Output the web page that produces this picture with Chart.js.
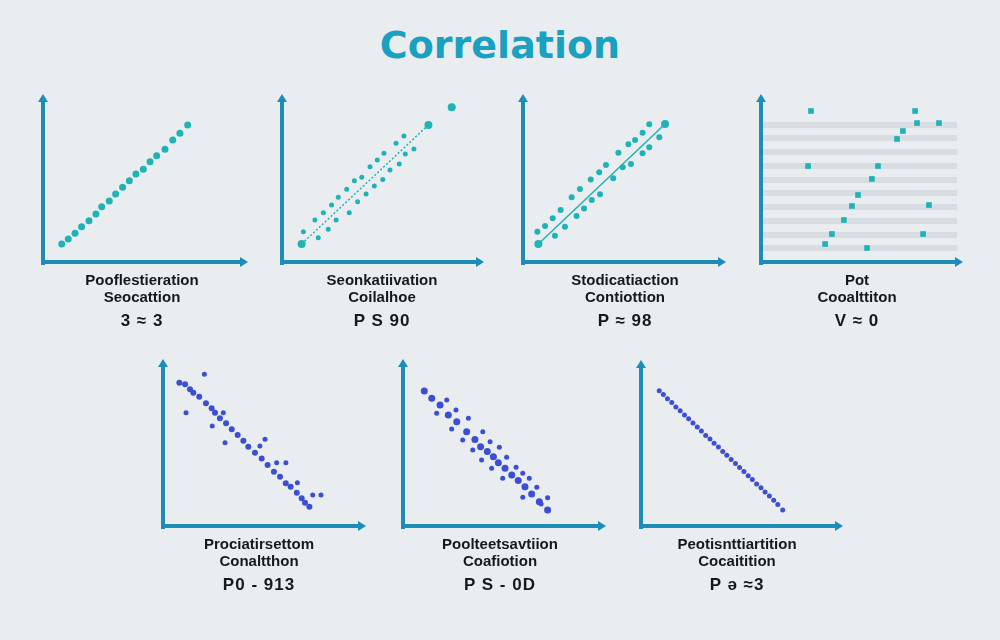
<!DOCTYPE html>
<html>
<head>
<meta charset="utf-8">
<script src="https://cdn.jsdelivr.net/npm/chart.js@4.4.1/dist/chart.umd.min.js"></script>
<style>
  body { margin: 0; background: #e9edf0; width: 1000px; height: 640px; position: relative; overflow: hidden; font-family: "Liberation Sans", Arial, sans-serif; }
  #title { position: absolute; left: 0; width: 1000px; top: 23px; text-align: center; font: bold 38px/44px "DejaVu Sans", sans-serif; color: #1aa0c0; }
  .panel { position: absolute; }
  .lbl { position: absolute; width: 240px; text-align: center; color: #16191c; font-weight: bold; }
  .l1, .l2 { font-size: 15px; line-height: 17px; }
  .l3 { font-size: 17px; line-height: 20px; margin-top: 6px; letter-spacing: 1px; }
</style>
</head>
<body>
<div id="title">Correlation</div>

<script>
// --- data (axes run 0..10) ---
// panel 1 : perfect positive
const p1X = [0.94, 1.27, 1.61, 1.94, 2.31, 2.66, 2.95, 3.33, 3.65, 4.00, 4.34, 4.67, 5.04, 5.38, 5.71, 6.13, 6.52, 6.88, 7.27];
const p1Y = [1.11, 1.42, 1.77, 2.18, 2.55, 2.96, 3.41, 3.77, 4.20, 4.61, 5.02, 5.43, 5.72, 6.19, 6.56, 6.96, 7.53, 7.94, 8.46];

// panel 2 : strong positive
const p2LineX = [1.00, 7.47];
const p2LineY = [1.11, 8.46];
const p2UpX = [1.09, 1.68, 2.11, 2.53, 2.87, 3.30, 3.69, 4.07, 4.49, 4.86, 5.20, 5.82, 6.22];
const p2UpY = [1.87, 2.59, 3.04, 3.52, 3.99, 4.49, 5.02, 5.23, 5.88, 6.30, 6.71, 7.33, 7.78];
const p2LoX = [1.85, 2.36, 2.76, 3.43, 3.86, 4.29, 4.71, 5.14, 5.51, 5.98, 6.29, 6.73];
const p2LoY = [1.50, 2.02, 2.59, 3.04, 3.72, 4.20, 4.69, 5.10, 5.68, 6.05, 6.67, 6.98];
const p2OutX = [8.66];
const p2OutY = [9.55];

// panel 3 : moderate positive
const p3LineX = [0.78, 7.21];
const p3LineY = [1.11, 8.52];
const p3UpX = [0.73, 1.12, 1.51, 1.91, 2.47, 2.89, 3.44, 3.87, 4.21, 4.84, 5.35, 5.69, 6.07, 6.41];
const p3UpY = [1.87, 2.22, 2.70, 3.21, 3.99, 4.51, 5.10, 5.54, 5.99, 6.75, 7.27, 7.53, 7.98, 8.50];
const p3LoX = [1.62, 2.13, 2.72, 3.10, 3.49, 3.91, 4.58, 5.06, 5.48, 6.07, 6.41, 6.92];
const p3LoY = [1.62, 2.18, 2.84, 3.31, 3.83, 4.18, 5.17, 5.85, 6.05, 6.71, 7.08, 7.70];

// panel 4 : no correlation (y axis 0..11.8, stripes on whole units)
const p4X = [2.55, 7.86, 7.96, 9.08, 7.24, 6.94, 2.40, 5.97, 5.66, 4.95, 4.64, 8.57, 4.23, 3.62, 8.27, 3.27, 5.41];
const p4Y = [11.00, 11.00, 10.12, 10.12, 9.54, 8.96, 6.99, 6.99, 6.05, 4.88, 4.08, 4.15, 3.06, 2.04, 2.04, 1.31, 1.02];

// panel 5 : negative with outliers
const p5X = [0.83, 1.12, 1.37, 1.54, 1.84, 2.18, 2.47, 2.64, 2.89, 3.20, 3.49, 3.79, 4.08, 4.33, 4.67, 5.01, 5.31, 5.63, 5.94, 6.23, 6.48, 6.79, 7.04, 7.21, 7.43];
const p5Y = [8.90, 8.80, 8.49, 8.28, 8.03, 7.62, 7.31, 7.04, 6.69, 6.38, 6.01, 5.65, 5.30, 4.93, 4.55, 4.20, 3.79, 3.37, 3.06, 2.65, 2.44, 2.07, 1.72, 1.45, 1.20];
const p5OutX = [2.10, 1.17, 2.50, 3.06, 3.15, 5.18, 4.92, 5.77, 6.24, 6.82, 7.60, 8.02];
const p5OutY = [9.42, 7.04, 6.21, 7.04, 5.17, 5.39, 4.97, 3.93, 3.93, 2.69, 1.93, 1.93];

// panel 6 : strong negative
const p6X = [1.08, 1.46, 1.88, 2.30, 2.73, 3.23, 3.65, 3.94, 4.28, 4.59, 4.84, 5.18, 5.52, 5.85, 6.19, 6.53, 6.92, 7.34];
const p6Y = [8.39, 7.93, 7.52, 6.89, 6.48, 5.86, 5.38, 4.93, 4.62, 4.30, 3.93, 3.58, 3.17, 2.82, 2.44, 1.99, 1.51, 0.99];
const p6SideX = [2.22, 2.69, 3.32, 4.05, 4.42, 4.89, 5.26, 5.74, 6.08, 6.41, 6.79, 7.34, 1.71, 2.47, 3.03, 3.54, 3.99, 4.50, 5.06, 6.08, 7.01];
const p6SideY = [7.83, 7.20, 6.69, 5.86, 5.24, 4.89, 4.27, 3.65, 3.27, 2.96, 2.40, 1.76, 7.00, 6.02, 5.34, 4.72, 4.10, 3.58, 2.96, 1.78, 1.37];

// panel 7 : perfect negative
const p7X = [0.93, 1.14, 1.35, 1.57, 1.78, 2.00, 2.22, 2.43, 2.65, 2.87, 3.08, 3.30, 3.52, 3.73, 3.95, 4.17, 4.38, 4.60, 4.82, 5.03, 5.25, 5.47, 5.68, 5.90, 6.12, 6.33, 6.55, 6.77, 6.98, 7.23];
const p7Y = [8.46, 8.22, 7.95, 7.72, 7.44, 7.21, 6.93, 6.70, 6.43, 6.19, 5.93, 5.66, 5.44, 5.17, 4.93, 4.65, 4.42, 4.15, 3.91, 3.65, 3.40, 3.14, 2.90, 2.62, 2.39, 2.12, 1.87, 1.61, 1.34, 1.00];

// labels under each panel
const labels = [
  ["Pooflestieration", "Seocattion", "3 ≈ 3"],
  ["Seonkatiivation", "Coilalhoe", "P S 90"],
  ["Stodicatiaction", "Contiottion", "P ≈ 98"],
  ["Pot", "Cooalttiton", "V ≈ 0"],
  ["Prociatirsettom", "Conaltthon", "P0 - 913"],
  ["Poolteetsavtiion", "Coafiotion", "P S - 0D"],
  ["Peotisnttiartition", "Cocaitition", "P ə ≈3"]
];

const TEAL = "#1fb3b6";
const BLUE = "#3c4fd3";
const AXIS = "#1b8db6";
const PAD = 10;

const pts = (xs, ys) => xs.map((x, i) => ({ x: x, y: ys[i] }));

// small arrow heads at the end of both axes
const arrowHeads = {
  id: "arrowHeads",
  afterDraw(chart) {
    const { ctx, chartArea: a } = chart;
    ctx.save();
    ctx.fillStyle = AXIS;
    ctx.beginPath();
    ctx.moveTo(a.left - 5, a.top + 2);
    ctx.lineTo(a.left + 5, a.top + 2);
    ctx.lineTo(a.left, a.top - 6);
    ctx.fill();
    ctx.beginPath();
    ctx.moveTo(a.right - 2, a.bottom - 5);
    ctx.lineTo(a.right - 2, a.bottom + 5);
    ctx.lineTo(a.right + 6, a.bottom);
    ctx.fill();
    ctx.restore();
  }
};

function makePanel(box, datasets, yMax, stripes) {
  const w = box.R - box.L + PAD * 2;
  const h = box.B - box.T + PAD * 2;
  const div = document.createElement("div");
  div.className = "panel";
  div.style.left = (box.L - PAD) + "px";
  div.style.top = (box.T - PAD) + "px";
  const cv = document.createElement("canvas");
  cv.width = w;
  cv.height = h;
  div.appendChild(cv);
  document.body.appendChild(div);

  new Chart(cv, {
    type: "scatter",
    data: { datasets: datasets },
    options: {
      responsive: false,
      animation: false,
      layout: { padding: PAD },
      plugins: { legend: { display: false }, tooltip: { enabled: false } },
      scales: {
        x: {
          min: 0, max: 10,
          grid: { color: "transparent", drawTicks: false },
          ticks: { display: false },
          border: { color: AXIS, width: 4 }
        },
        y: {
          min: 0, max: yMax,
          grid: {
            drawTicks: false,
            lineWidth: 6,
            color: ctx => (stripes && ctx.tick && ctx.tick.value > 0 && Number.isInteger(ctx.tick.value))
              ? "rgba(190,195,199,0.38)" : "transparent"
          },
          ticks: { display: false, stepSize: 1 },
          border: { color: AXIS, width: 4 }
        }
      }
    },
    plugins: [arrowHeads]
  });
}

function dots(xs, ys, color, r, style) {
  return { data: pts(xs, ys), backgroundColor: color, borderWidth: 0, pointRadius: r, pointStyle: style || "circle", clip: false };
}

function trend(xs, ys, color, dash) {
  return {
    type: "line", data: pts(xs, ys), borderColor: color, borderWidth: 1.5, borderDash: dash,
    pointRadius: 4, pointBackgroundColor: color, pointBorderWidth: 0, clip: false
  };
}

makePanel({ L: 43, T: 100, R: 242, B: 262 }, [dots(p1X, p1Y, TEAL, 3.5)], 10);
makePanel({ L: 282, T: 100, R: 478, B: 262 }, [
  trend(p2LineX, p2LineY, TEAL, [2, 2]),
  dots(p2UpX, p2UpY, TEAL, 2.5),
  dots(p2LoX, p2LoY, TEAL, 2.5),
  dots(p2OutX, p2OutY, TEAL, 4)
], 10);
makePanel({ L: 523, T: 100, R: 720, B: 262 }, [
  trend(p3LineX, p3LineY, TEAL, []),
  dots(p3UpX, p3UpY, TEAL, 3),
  dots(p3LoX, p3LoY, TEAL, 3)
], 10);
makePanel({ L: 761, T: 100, R: 957, B: 262 }, [dots(p4X, p4Y, TEAL, 4, "rect")], 11.8, true);
makePanel({ L: 163, T: 365, R: 360, B: 526 }, [
  dots(p5X, p5Y, BLUE, 3),
  dots(p5OutX, p5OutY, BLUE, 2.5)
], 10);
makePanel({ L: 403, T: 365, R: 600, B: 526 }, [
  dots(p6X, p6Y, BLUE, 3.5),
  dots(p6SideX, p6SideY, BLUE, 2.5)
], 10);
makePanel({ L: 641, T: 366, R: 837, B: 526 }, [dots(p7X, p7Y, BLUE, 2.5)], 10);

// captions
const captionPos = [[142, 271], [382, 271], [625, 271], [857, 271], [259, 535], [500, 535], [737, 535]];
labels.forEach((lines, i) => {
  const d = document.createElement("div");
  d.className = "lbl";
  d.style.left = (captionPos[i][0] - 120) + "px";
  d.style.top = captionPos[i][1] + "px";
  d.innerHTML = `<div class="l1">${lines[0]}</div><div class="l2">${lines[1]}</div><div class="l3">${lines[2]}</div>`;
  document.body.appendChild(d);
});
</script>
</body>
</html>
